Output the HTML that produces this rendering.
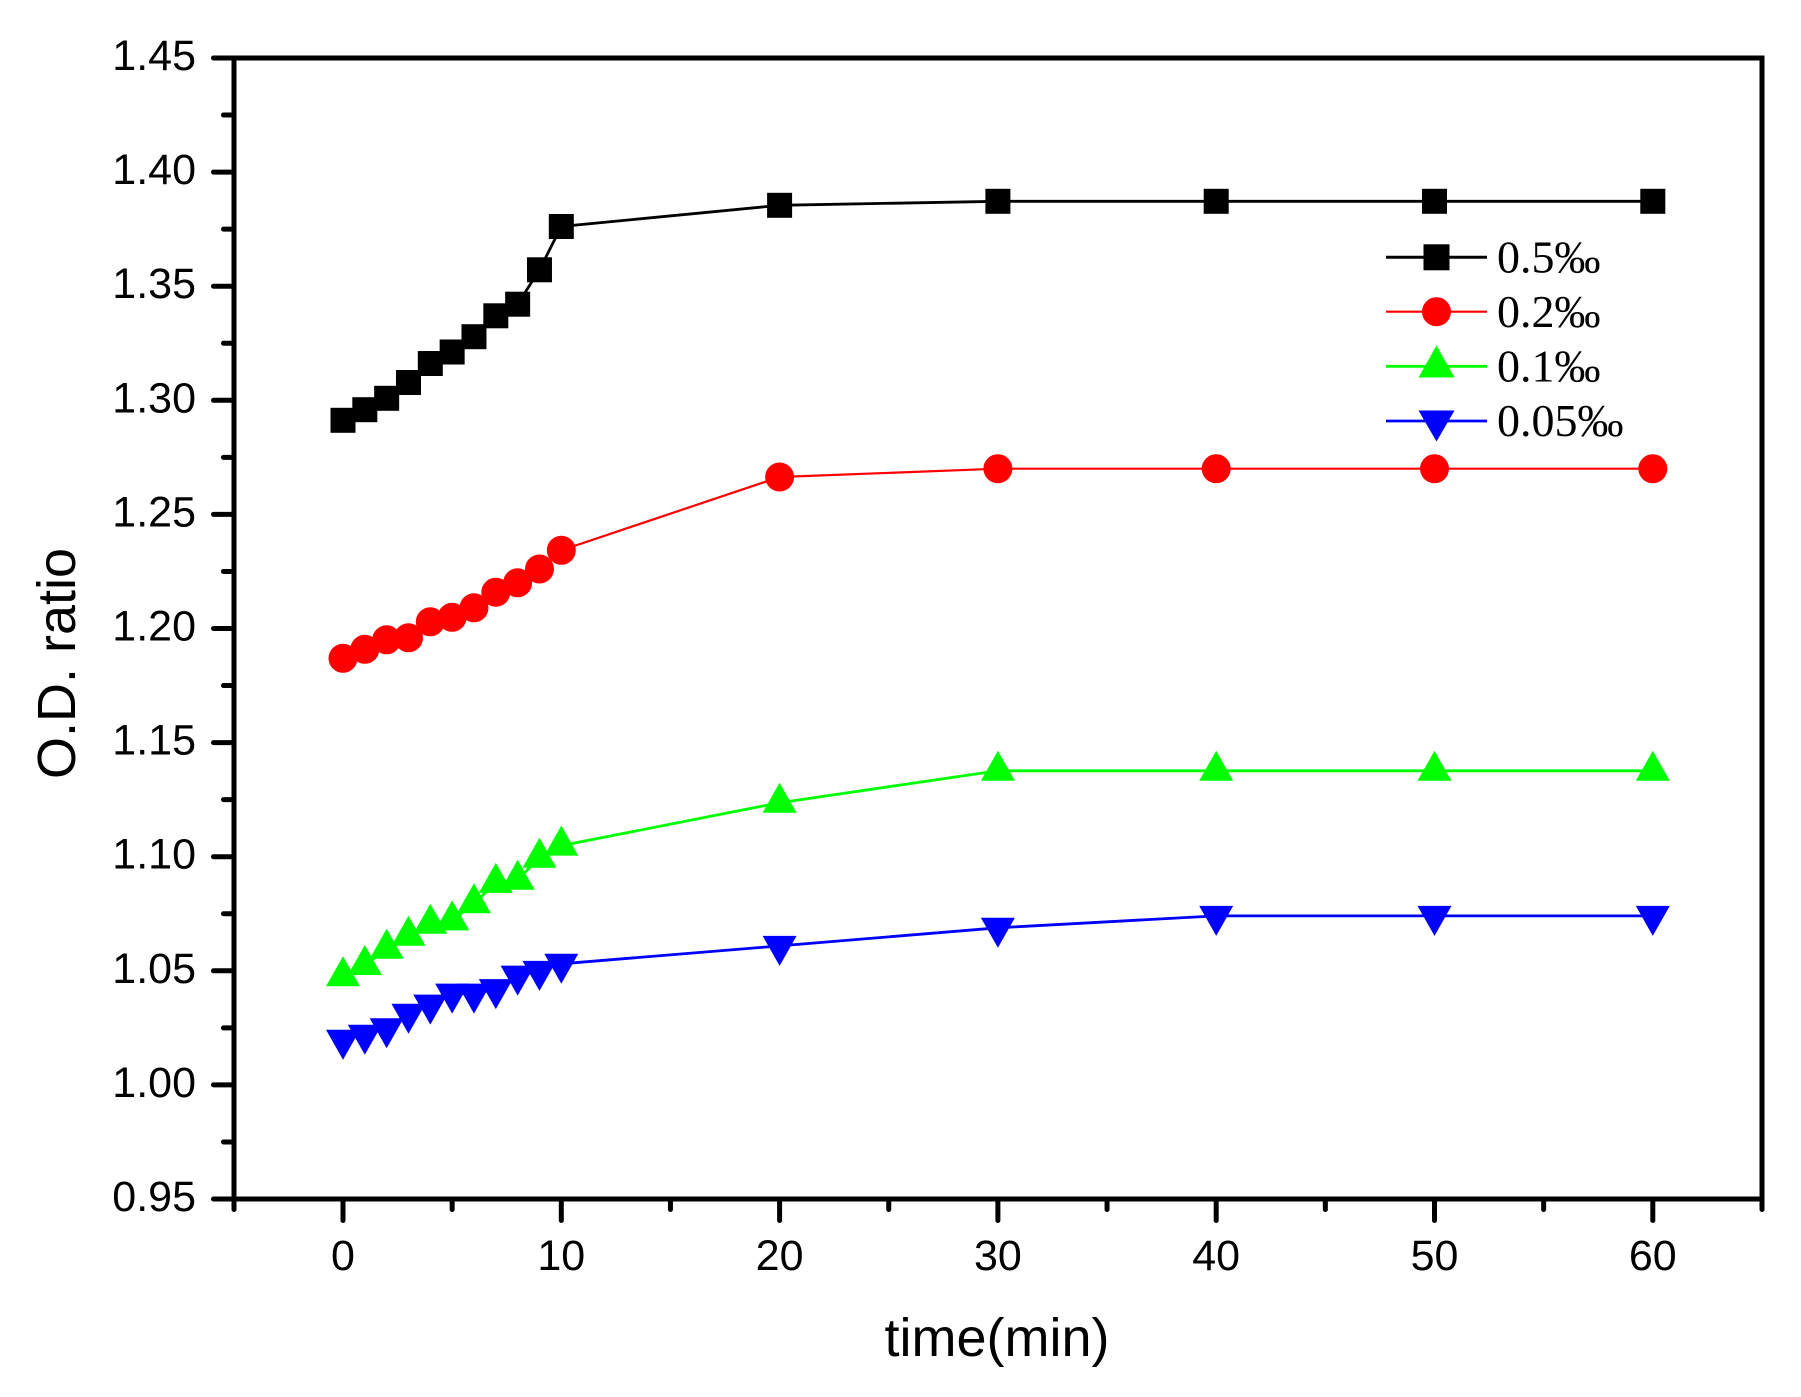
<!DOCTYPE html>
<html>
<head>
<meta charset="utf-8">
<style>
html,body{margin:0;padding:0;background:#fff;}
svg{display:block;}
.ax{font-family:"Liberation Sans",Arial,sans-serif;fill:#000;}
.lg{font-family:"Liberation Serif","Times New Roman",serif;fill:#000;}
</style>
</head>
<body>
<svg width="1801" height="1397" viewBox="0 0 1801 1397" xmlns="http://www.w3.org/2000/svg">
<defs>
  <rect id="sq" x="-12.5" y="-12.5" width="25" height="25" fill="#000"/>
  <circle id="ci" cx="0" cy="0" r="14.5" fill="#ff0000"/>
  <polygon id="tu" points="0,-20 -17,10 17,10" fill="#00ff00"/>
  <polygon id="td" points="-17,-10 17,-10 0,20" fill="#0000ff"/>
</defs>
<rect x="0" y="0" width="1801" height="1397" fill="#fff"/>

<!-- frame -->
<rect x="234" y="58" width="1528" height="1141" fill="none" stroke="#000" stroke-width="5"/>

<!-- y ticks -->
<g stroke="#000" stroke-width="5" stroke-linecap="round">
  <line x1="213.5" y1="58" x2="234" y2="58"/>
  <line x1="213.5" y1="172.1" x2="234" y2="172.1"/>
  <line x1="213.5" y1="286.2" x2="234" y2="286.2"/>
  <line x1="213.5" y1="400.3" x2="234" y2="400.3"/>
  <line x1="213.5" y1="514.4" x2="234" y2="514.4"/>
  <line x1="213.5" y1="628.5" x2="234" y2="628.5"/>
  <line x1="213.5" y1="742.6" x2="234" y2="742.6"/>
  <line x1="213.5" y1="856.7" x2="234" y2="856.7"/>
  <line x1="213.5" y1="970.8" x2="234" y2="970.8"/>
  <line x1="213.5" y1="1084.9" x2="234" y2="1084.9"/>
  <line x1="213.5" y1="1199" x2="234" y2="1199"/>
  <line x1="223.5" y1="115.05" x2="234" y2="115.05"/>
  <line x1="223.5" y1="229.15" x2="234" y2="229.15"/>
  <line x1="223.5" y1="343.25" x2="234" y2="343.25"/>
  <line x1="223.5" y1="457.35" x2="234" y2="457.35"/>
  <line x1="223.5" y1="571.45" x2="234" y2="571.45"/>
  <line x1="223.5" y1="685.55" x2="234" y2="685.55"/>
  <line x1="223.5" y1="799.65" x2="234" y2="799.65"/>
  <line x1="223.5" y1="913.75" x2="234" y2="913.75"/>
  <line x1="223.5" y1="1027.85" x2="234" y2="1027.85"/>
  <line x1="223.5" y1="1141.95" x2="234" y2="1141.95"/>
</g>
<!-- x ticks -->
<g stroke="#000" stroke-width="5" stroke-linecap="round">
  <line x1="343" y1="1199" x2="343" y2="1220.5"/>
  <line x1="561.3" y1="1199" x2="561.3" y2="1220.5"/>
  <line x1="779.6" y1="1199" x2="779.6" y2="1220.5"/>
  <line x1="997.9" y1="1199" x2="997.9" y2="1220.5"/>
  <line x1="1216.2" y1="1199" x2="1216.2" y2="1220.5"/>
  <line x1="1434.5" y1="1199" x2="1434.5" y2="1220.5"/>
  <line x1="1652.8" y1="1199" x2="1652.8" y2="1220.5"/>
  <line x1="234" y1="1199" x2="234" y2="1209.5"/>
  <line x1="452.15" y1="1199" x2="452.15" y2="1209.5"/>
  <line x1="670.45" y1="1199" x2="670.45" y2="1209.5"/>
  <line x1="888.75" y1="1199" x2="888.75" y2="1209.5"/>
  <line x1="1107.05" y1="1199" x2="1107.05" y2="1209.5"/>
  <line x1="1325.35" y1="1199" x2="1325.35" y2="1209.5"/>
  <line x1="1543.65" y1="1199" x2="1543.65" y2="1209.5"/>
  <line x1="1762" y1="1199" x2="1762" y2="1209.5"/>
</g>

<!-- y tick labels -->
<g class="ax" font-size="43" text-anchor="end">
  <text x="196" y="70">1.45</text>
  <text x="196" y="184.1">1.40</text>
  <text x="196" y="298.2">1.35</text>
  <text x="196" y="412.3">1.30</text>
  <text x="196" y="526.4">1.25</text>
  <text x="196" y="640.5">1.20</text>
  <text x="196" y="754.6">1.15</text>
  <text x="196" y="868.7">1.10</text>
  <text x="196" y="982.8">1.05</text>
  <text x="196" y="1096.9">1.00</text>
  <text x="196" y="1211">0.95</text>
</g>
<!-- x tick labels -->
<g class="ax" font-size="43" text-anchor="middle">
  <text x="343" y="1270">0</text>
  <text x="561.3" y="1270">10</text>
  <text x="779.6" y="1270">20</text>
  <text x="997.9" y="1270">30</text>
  <text x="1216.2" y="1270">40</text>
  <text x="1434.5" y="1270">50</text>
  <text x="1652.8" y="1270">60</text>
</g>

<!-- axis titles -->
<text class="ax" font-size="54" text-anchor="middle" x="997" y="1356">time(min)</text>
<text class="ax" font-size="54" text-anchor="middle" transform="translate(75,663.5) rotate(-90)" x="0" y="0">O.D. ratio</text>

<!-- series lines -->
<polyline fill="none" stroke="#000" stroke-width="2.8" points="343,420.3 364.83,409.7 386.66,398.3 408.49,382.5 430.32,363.5 452.15,352 473.98,336.7 495.81,315.8 517.64,304.2 539.47,269.8 561.3,226.5 779.6,205.3 997.9,201.3 1216.2,201.3 1434.5,201.3 1652.8,201.3"/>
<polyline fill="none" stroke="#ff0000" stroke-width="2.2" points="343,658.3 364.83,649.3 386.66,639.8 408.49,637.8 430.32,621.8 452.15,617.3 473.98,607.8 495.81,592.2 517.64,582.8 539.47,569 561.3,550.3 779.6,477 997.9,468.7 1216.2,468.7 1434.5,468.7 1652.8,468.7"/>
<polyline fill="none" stroke="#00ff00" stroke-width="2.8" points="343,976.2 364.83,965 386.66,948.8 408.49,935.8 430.32,923.8 452.15,920.4 473.98,903.3 495.81,882.9 517.64,879.8 539.47,857.8 561.3,845.6 779.6,802.7 997.9,770.8 1216.2,770.8 1434.5,770.8 1652.8,770.8"/>
<polyline fill="none" stroke="#0000ff" stroke-width="2.8" points="343,1039.8 364.83,1034.8 386.66,1028.2 408.49,1013.8 430.32,1004.6 452.15,993.6 473.98,993.6 495.81,989.1 517.64,975.6 539.47,970.9 561.3,963.8 779.6,945.9 997.9,927.8 1216.2,915.9 1434.5,915.9 1652.8,915.9"/>

<!-- black squares -->
<g>
  <use href="#sq" x="343" y="420.3"/>
  <use href="#sq" x="364.83" y="409.7"/>
  <use href="#sq" x="386.66" y="398.3"/>
  <use href="#sq" x="408.49" y="382.5"/>
  <use href="#sq" x="430.32" y="363.5"/>
  <use href="#sq" x="452.15" y="352"/>
  <use href="#sq" x="473.98" y="336.7"/>
  <use href="#sq" x="495.81" y="315.8"/>
  <use href="#sq" x="517.64" y="304.2"/>
  <use href="#sq" x="539.47" y="269.8"/>
  <use href="#sq" x="561.3" y="226.5"/>
  <use href="#sq" x="779.6" y="205.3"/>
  <use href="#sq" x="997.9" y="201.3"/>
  <use href="#sq" x="1216.2" y="201.3"/>
  <use href="#sq" x="1434.5" y="201.3"/>
  <use href="#sq" x="1652.8" y="201.3"/>
</g>
<!-- red circles -->
<g>
  <use href="#ci" x="343" y="658.3"/>
  <use href="#ci" x="364.83" y="649.3"/>
  <use href="#ci" x="386.66" y="639.8"/>
  <use href="#ci" x="408.49" y="637.8"/>
  <use href="#ci" x="430.32" y="621.8"/>
  <use href="#ci" x="452.15" y="617.3"/>
  <use href="#ci" x="473.98" y="607.8"/>
  <use href="#ci" x="495.81" y="592.2"/>
  <use href="#ci" x="517.64" y="582.8"/>
  <use href="#ci" x="539.47" y="569"/>
  <use href="#ci" x="561.3" y="550.3"/>
  <use href="#ci" x="779.6" y="477"/>
  <use href="#ci" x="997.9" y="468.7"/>
  <use href="#ci" x="1216.2" y="468.7"/>
  <use href="#ci" x="1434.5" y="468.7"/>
  <use href="#ci" x="1652.8" y="468.7"/>
</g>
<!-- green triangles -->
<g>
  <use href="#tu" x="343" y="976.2"/>
  <use href="#tu" x="364.83" y="965"/>
  <use href="#tu" x="386.66" y="948.8"/>
  <use href="#tu" x="408.49" y="935.8"/>
  <use href="#tu" x="430.32" y="923.8"/>
  <use href="#tu" x="452.15" y="920.4"/>
  <use href="#tu" x="473.98" y="903.3"/>
  <use href="#tu" x="495.81" y="882.9"/>
  <use href="#tu" x="517.64" y="879.8"/>
  <use href="#tu" x="539.47" y="857.8"/>
  <use href="#tu" x="561.3" y="845.6"/>
  <use href="#tu" x="779.6" y="802.7"/>
  <use href="#tu" x="997.9" y="770.8"/>
  <use href="#tu" x="1216.2" y="770.8"/>
  <use href="#tu" x="1434.5" y="770.8"/>
  <use href="#tu" x="1652.8" y="770.8"/>
</g>
<!-- blue down triangles -->
<g>
  <use href="#td" x="343" y="1039.8"/>
  <use href="#td" x="364.83" y="1034.8"/>
  <use href="#td" x="386.66" y="1028.2"/>
  <use href="#td" x="408.49" y="1013.8"/>
  <use href="#td" x="430.32" y="1004.6"/>
  <use href="#td" x="452.15" y="993.6"/>
  <use href="#td" x="473.98" y="993.6"/>
  <use href="#td" x="495.81" y="989.1"/>
  <use href="#td" x="517.64" y="975.6"/>
  <use href="#td" x="539.47" y="970.9"/>
  <use href="#td" x="561.3" y="963.8"/>
  <use href="#td" x="779.6" y="945.9"/>
  <use href="#td" x="997.9" y="927.8"/>
  <use href="#td" x="1216.2" y="915.9"/>
  <use href="#td" x="1434.5" y="915.9"/>
  <use href="#td" x="1652.8" y="915.9"/>
</g>

<!-- legend -->
<line x1="1386" y1="257.3" x2="1487" y2="257.3" stroke="#000" stroke-width="3"/>
<use href="#sq" x="1436.5" y="257.3" transform="translate(1436.5,257.3) scale(1.04) translate(-1436.5,-257.3)"/>
<line x1="1386" y1="311.7" x2="1487" y2="311.7" stroke="#ff0000" stroke-width="2.2"/>
<use href="#ci" x="1436.5" y="311.7"/>
<line x1="1386" y1="366.3" x2="1487" y2="366.3" stroke="#00ff00" stroke-width="2.8"/>
<polygon points="1436.5,345.5 1418.5,377.5 1454.5,377.5" fill="#00ff00"/>
<line x1="1386" y1="421" x2="1487" y2="421" stroke="#0000ff" stroke-width="2.8"/>
<polygon points="1418.5,410.5 1454.5,410.5 1436.5,441.5" fill="#0000ff"/>
<g class="lg" font-size="46">
  <text x="1497" y="272.5">0.5‰</text>
  <text x="1497" y="326.8">0.2‰</text>
  <text x="1497" y="381.3">0.1‰</text>
  <text x="1497" y="436">0.05‰</text>
</g>
</svg>
</body>
</html>
